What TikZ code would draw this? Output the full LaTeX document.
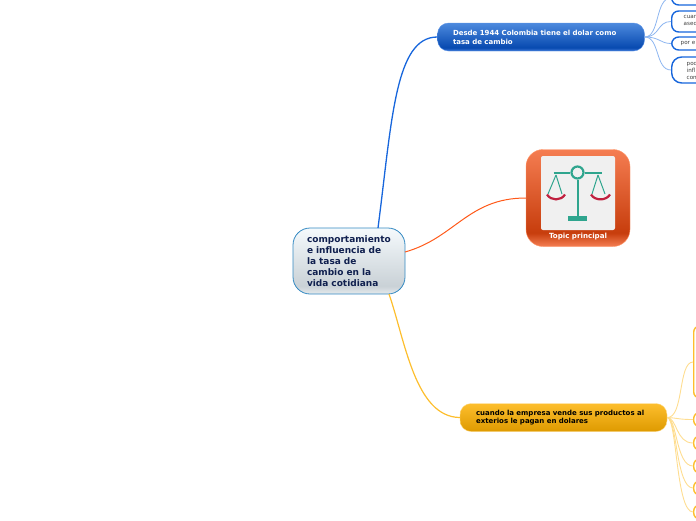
\documentclass[tikz,border=0pt]{standalone}
\usepackage{fontspec}
\setmainfont{DejaVu Sans}
\usetikzlibrary{positioning}
\definecolor{bluelink}{HTML}{1766DC}
\definecolor{bluepale}{HTML}{8DB6F0}
\definecolor{amberlt}{HTML}{FDBE2D}
\definecolor{amberdk}{HTML}{DE9A00}
\definecolor{amberpale}{HTML}{FEDD90}
\definecolor{scalegreen}{HTML}{2FA58E}
\definecolor{scalered}{HTML}{C0203F}
\definecolor{navy}{HTML}{10204F}
\pgfdeclareverticalshading{rootshade}{100bp}{rgb(0bp)=(0.90,0.92,0.93); rgb(25bp)=(0.90,0.92,0.93); rgb(31bp)=(0.79,0.82,0.84); rgb(75bp)=(0.96,0.98,0.99); rgb(100bp)=(0.96,0.98,0.99)}
\pgfdeclareverticalshading{badgeshade}{100bp}{rgb(0bp)=(0.96,0.50,0.33); rgb(25bp)=(0.96,0.50,0.33); rgb(32bp)=(0.78,0.24,0.05); rgb(75bp)=(0.96,0.49,0.32); rgb(100bp)=(0.96,0.49,0.32)}
\pgfdeclareverticalshading{blueshade}{100bp}{rgb(0bp)=(0.25,0.48,0.85); rgb(25bp)=(0.25,0.48,0.85); rgb(31bp)=(0.03,0.29,0.69); rgb(75bp)=(0.30,0.54,0.87); rgb(100bp)=(0.30,0.54,0.87)}

\begin{document}
\begin{tikzpicture}[
    x=1pt, y=-1pt,
    every node/.style={font=\bfseries\fontsize{7}{8.8}\selectfont},
    root/.style={draw=blue!40!cyan!70!black!80, line width=0.8pt, rounded corners=17pt, shading=rootshade,
                 minimum width=112pt, minimum height=66pt, inner sep=0pt, text=navy, align=left,
                 font=\bfseries\fontsize{9}{11}\selectfont},
    bluetopic/.style={draw=bluelink!70, rounded corners=11pt, shading=blueshade,
                 minimum width=207pt, minimum height=28pt, inner sep=0pt, text=white, align=left},
    ambertopic/.style={draw=amberpale, rounded corners=11pt, top color=amberlt, bottom color=amberdk,
                 minimum width=207pt, minimum height=28pt, inner sep=0pt, text=black, align=left},
    bluesub/.style={draw=bluelink, line width=1.4pt, fill=white, rounded corners=7pt, inner sep=0pt,
                 minimum width=40pt, anchor=west, align=left, text=black!75,
                 font=\fontsize{5.6}{7}\selectfont},
    ambersub/.style={draw=amberlt, line width=1.4pt, fill=white, rounded corners=6pt, inner sep=0pt,
                 minimum width=30pt, minimum height=14pt, anchor=west},
    blueln/.style={draw=bluepale, line width=0.8pt},
    amberln/.style={draw=amberpale, line width=0.9pt},
    scalebar/.style={draw=scalegreen, line width=2pt},
    scalestr/.style={draw=scalegreen, line width=1pt},
    scalepan/.style={draw=scalered, line width=2.2pt},
  ]
  \useasboundingbox (0,0) rectangle (696,520);

  % center
  \node[root, text width=84pt] (center) at (349,261)
    {comportamiento\\e influencia de\\la tasa de\\cambio en la\\vida cotidiana};

  % topics
  \node[bluetopic, text width=176pt] (dollar) at (541,37) {Desde 1944 Colombia tiene el dolar como\\tasa de cambio};
  \node[ambertopic, text width=175pt] (firm) at (563.5,417.5) {cuando la empresa vende sus productos al\\exterios le pagan en dolares};

  % topic principal
  \node[draw=orange!60!red!60, rounded corners=17pt, shading=badgeshade,
        minimum width=104pt, minimum height=97pt] (badge) at (578,198) {};
  \node[fill=black!6, rounded corners=2pt, minimum width=74pt, minimum height=74pt] (icon) at (578,193) {};
  \node[text=white, font=\bfseries\fontsize{7.1}{8}\selectfont, inner sep=0pt] (badgelbl) at (578,236.5) {Topic principal};
  \node[circle, draw=scalegreen, line width=2.2pt, minimum size=12pt, inner sep=0pt] (ring) at (577.5,172.5) {};
  \coordinate (armL) at (553.5,172.5);
  \coordinate (armR) at (602,172.5);
  \coordinate (hookL) at (556,175);
  \coordinate (hookR) at (598,175);
  \node[fill=scalegreen, minimum width=19pt, minimum height=5.5pt, inner sep=0pt] (foot) at (577.5,218.5) {};
  \draw[scalebar] (armL) -- (ring);
  \draw[scalebar] (ring) -- (armR);
  \draw[scalebar] (ring) -- (foot);
  \draw[scalestr] (hookL) -- (548,194);
  \draw[scalestr] (hookL) -- (562,194);
  \draw[scalestr] (hookR) -- (592,194);
  \draw[scalestr] (hookR) -- (605,194);
  \draw[scalepan] (547,194.5) .. controls (551,201) and (561,201) .. (565,194.5);
  \draw[scalepan] (591,194.5) .. controls (595,201) and (606,201) .. (610,194.5);

  % sub nodes cut off by the page edge
  \node[bluesub, minimum height=14pt] (b1) at (671,-2) {};
  \node[bluesub, minimum height=21pt, text width=16pt] (b2) at (671,21.5) {cuan\\aseq};
  \node[bluesub, minimum height=13pt, text width=22pt] (b3) at (671,43.5) {por e};
  \node[bluesub, minimum height=26pt, rounded corners=10pt, text width=10pt] (b4) at (671,70) {pod\\infl\\con};

  \node[ambersub, minimum height=72pt] (a1) at (693,362) {};
  \node[ambersub] (a2) at (693,419.5) {};
  \node[ambersub] (a3) at (693,443) {};
  \node[ambersub] (a4) at (693,466) {};
  \node[ambersub] (a5) at (693,488) {};
  \node[ambersub] (a6) at (693,512) {};

  % branches
  \coordinate (c1) at (378,228);
  \coordinate (c2) at (389,294);
  \coordinate (c3) at (405,252);
  \draw[draw=bluelink, line width=1.3pt] (c1) .. controls (392,120) and (395,37) .. (dollar.west);
  \draw[draw=orange!55!red!90, line width=1pt] (c3) .. controls (455,238) and (468,198) .. (badge.west);
  \draw[draw=amberlt, line width=1.2pt] (c2) .. controls (405,340) and (415,417) .. (firm.west);

  \draw[blueln] (dollar.east) .. controls (660,37) and (655,-2) .. (b1.west);
  \draw[blueln] (dollar.east) .. controls (660,37) and (657,21.5) .. (b2.west);
  \draw[blueln] (dollar.east) .. controls (660,37) and (660,43.5) .. (b3.west);
  \draw[blueln] (dollar.east) .. controls (660,37) and (655,70) .. (b4.west);

  \draw[amberln] (firm.east) .. controls (684,418) and (678,362) .. (a1.west);
  \draw[amberln] (firm.east) .. controls (678,418) and (678,419.5) .. (a2.west);
  \draw[amberln] (firm.east) .. controls (677,418) and (676,443) .. (a3.west);
  \draw[amberln] (firm.east) .. controls (677,418) and (676,466) .. (a4.west);
  \draw[amberln] (firm.east) .. controls (677,418) and (676,488) .. (a5.west);
  \draw[amberln] (firm.east) .. controls (677,418) and (676,512) .. (a6.west);
\end{tikzpicture}
\end{document}
